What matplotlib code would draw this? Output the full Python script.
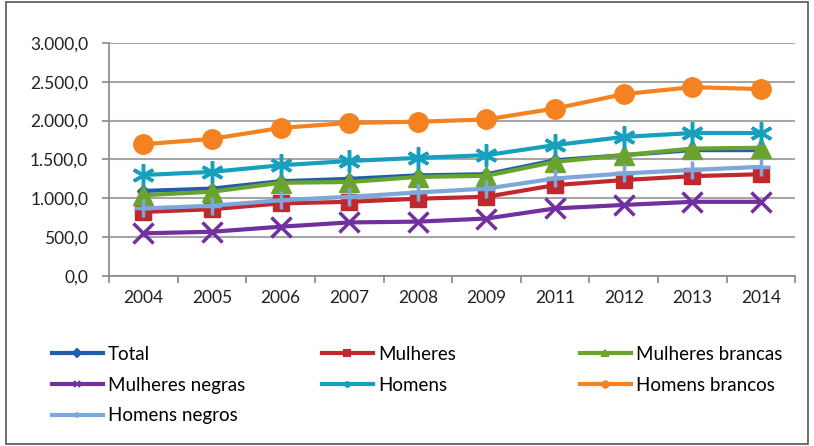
import numpy as np
import matplotlib.pyplot as plt
from matplotlib.ticker import FuncFormatter, FixedLocator
from matplotlib.patches import Rectangle

plt.rcParams['font.family'] = ['Lato', 'DejaVu Sans']

# Dados
anos = ['2004', '2005', '2006', '2007', '2008', '2009', '2011', '2012', '2013', '2014']
total = [1095, 1125, 1220, 1250, 1295, 1310, 1490, 1555, 1620, 1620]
mulheres = [825, 860, 935, 955, 995, 1020, 1170, 1235, 1285, 1310]
mulheres_brancas = [1040, 1085, 1200, 1210, 1275, 1290, 1470, 1555, 1640, 1650]
mulheres_negras = [550, 570, 635, 690, 700, 740, 870, 915, 955, 955]
homens = [1300, 1340, 1425, 1480, 1520, 1555, 1685, 1790, 1840, 1840]
homens_brancos = [1695, 1765, 1905, 1970, 1985, 2015, 2155, 2340, 2430, 2405]
homens_negros = [870, 905, 975, 1020, 1075, 1125, 1255, 1320, 1365, 1405]

series = [
    ('Total', total, '#1f5ea8', 'D', 6),
    ('Mulheres', mulheres, '#c0282d', 's', 12),
    ('Mulheres brancas', mulheres_brancas, '#6aa42f', '^', 14),
    ('Mulheres negras', mulheres_negras, '#7030a0', 'x', 14),
    ('Homens', homens, '#17a0be', (6, 2, 0), 16),
    ('Homens brancos', homens_brancos, '#f58220', 'o', 14),
    ('Homens negros', homens_negros, '#7da7d9', '+', 13),
]

fig = plt.figure(figsize=(8.14, 4.46), dpi=100)
ax = fig.add_axes([0.134, 0.381, 0.843, 0.523])
x = np.arange(len(anos))

handles = {}
for nome, vals, cor, mk, ms in series:
    line, = ax.plot(x, vals, color=cor, linewidth=3, marker=mk, markersize=ms,
                    markeredgewidth=2.5 if mk in ('x', '+', (6, 2, 0)) else 1,
                    markeredgecolor=cor, markerfacecolor=cor, label=nome)
    handles[nome] = line

ax.set_ylim(0, 3000)
ax.set_xlim(-0.5, len(anos) - 0.5)
ax.set_yticks(np.arange(0, 3001, 500))
ax.yaxis.set_major_formatter(FuncFormatter(
    lambda v, p: f'{v:,.1f}'.replace(',', 'X').replace('.', ',').replace('X', '.')))
ax.set_xticks(x)
ax.set_xticklabels(anos)
ax.xaxis.set_minor_locator(FixedLocator(np.arange(-0.5, len(anos), 1)))
ax.tick_params(axis='x', which='major', length=0, pad=10, labelsize=12.5, labelcolor='#222222')
ax.tick_params(axis='x', which='minor', length=5, color='#888888', width=1.2)
ax.tick_params(axis='y', length=5, color='#888888', width=1.2, pad=10, labelsize=12.5,
               labelcolor='#222222')
ax.grid(axis='y', color='#a6a6a6', linewidth=1.5)
ax.set_axisbelow(True)
for s in ['top', 'right']:
    ax.spines[s].set_visible(False)
for s in ['left', 'bottom']:
    ax.spines[s].set_color('#888888')
    ax.spines[s].set_linewidth(1.2)

# Legenda em três colunas de largura fixa
colunas = [
    (['Total', 'Mulheres negras', 'Homens negros'], 52),
    (['Mulheres', 'Homens'], 322),
    (['Mulheres brancas', 'Homens brancos'], 580),
]
for nomes, px in colunas:
    hs = []
    for nome in nomes:
        h = handles[nome]
        l, = ax.plot([], [], color=h.get_color(), linewidth=3, marker=h.get_marker(),
                     markersize=4.5, markeredgewidth=1.5)
        hs.append(l)
    fig.legend(hs, nomes, loc='upper left', bbox_to_anchor=(px / 814, 0.225),
               frameon=False, fontsize=13.5, handlelength=2.7, handletextpad=0.3,
               labelspacing=0.74, borderpad=0, borderaxespad=0)

fig.patches.append(Rectangle((0.007, 0.005), 0.986, 0.99, transform=fig.transFigure,
                             fill=False, edgecolor='#555555', linewidth=1.2))

fig.savefig('out.png', dpi=100)
